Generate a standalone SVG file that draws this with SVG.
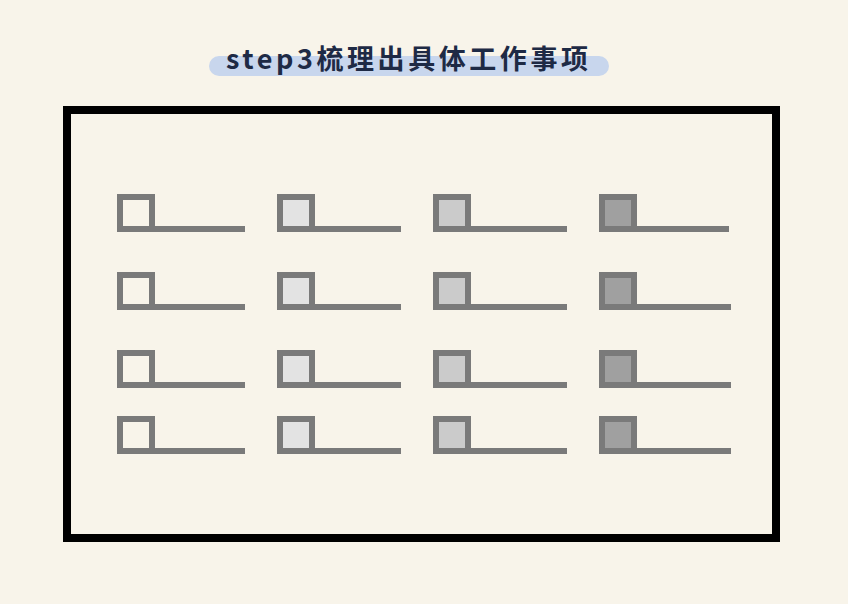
<svg xmlns="http://www.w3.org/2000/svg" width="848" height="604" viewBox="0 0 848 604">
<style>
.bg{fill:#f8f4ea}
.frame{fill:none;stroke:#000;stroke-width:8}
.box{stroke:#7a7a7a;stroke-width:6}
.line{stroke:#7a7a7a;stroke-width:6;stroke-linecap:butt}
.c1{fill:none}
.c2{fill:#e3e3e3}
.c3{fill:#cbcbcb}
.c4{fill:#a0a0a0}
.title{font-family:"Noto Sans CJK SC","Noto Sans",sans-serif;font-size:27px;font-weight:bold;fill:#1e2a45}
</style>
<rect class="bg" x="0" y="0" width="848" height="604"/>
<g id="title">
<rect x="209" y="56" width="400" height="20" rx="10" fill="#c8d6ed"/>
<text class="title" x="226" y="69" textLength="362" lengthAdjust="spacing">step3梳理出具体工作事项</text>
</g>
<g id="frame">
<rect class="frame" x="67" y="110" width="709" height="428"/>
</g>
<g id="col1">
<g id="r1c1"><rect class="box c1" x="120" y="197" width="32" height="32"/><line class="line" x1="152" y1="229" x2="245" y2="229"/></g>
<g id="r2c1"><rect class="box c1" x="120" y="275" width="32" height="32"/><line class="line" x1="152" y1="307" x2="245" y2="307"/></g>
<g id="r3c1"><rect class="box c1" x="120" y="353" width="32" height="32"/><line class="line" x1="152" y1="385" x2="245" y2="385"/></g>
<g id="r4c1"><rect class="box c1" x="120" y="419" width="32" height="32"/><line class="line" x1="152" y1="451" x2="245" y2="451"/></g>
</g>
<g id="col2">
<g id="r1c2"><rect class="box c2" x="280" y="197" width="32" height="32"/><line class="line" x1="312" y1="229" x2="401" y2="229"/></g>
<g id="r2c2"><rect class="box c2" x="280" y="275" width="32" height="32"/><line class="line" x1="312" y1="307" x2="401" y2="307"/></g>
<g id="r3c2"><rect class="box c2" x="280" y="353" width="32" height="32"/><line class="line" x1="312" y1="385" x2="401" y2="385"/></g>
<g id="r4c2"><rect class="box c2" x="280" y="419" width="32" height="32"/><line class="line" x1="312" y1="451" x2="401" y2="451"/></g>
</g>
<g id="col3">
<g id="r1c3"><rect class="box c3" x="436" y="197" width="32" height="32"/><line class="line" x1="468" y1="229" x2="567" y2="229"/></g>
<g id="r2c3"><rect class="box c3" x="436" y="275" width="32" height="32"/><line class="line" x1="468" y1="307" x2="567" y2="307"/></g>
<g id="r3c3"><rect class="box c3" x="436" y="353" width="32" height="32"/><line class="line" x1="468" y1="385" x2="567" y2="385"/></g>
<g id="r4c3"><rect class="box c3" x="436" y="419" width="32" height="32"/><line class="line" x1="468" y1="451" x2="567" y2="451"/></g>
</g>
<g id="col4">
<g id="r1c4"><rect class="box c4" x="602" y="197" width="32" height="32"/><line class="line" x1="634" y1="229" x2="729" y2="229"/></g>
<g id="r2c4"><rect class="box c4" x="602" y="275" width="32" height="32"/><line class="line" x1="634" y1="307" x2="731" y2="307"/></g>
<g id="r3c4"><rect class="box c4" x="602" y="353" width="32" height="32"/><line class="line" x1="634" y1="385" x2="731" y2="385"/></g>
<g id="r4c4"><rect class="box c4" x="602" y="419" width="32" height="32"/><line class="line" x1="634" y1="451" x2="731" y2="451"/></g>
</g>
</svg>
